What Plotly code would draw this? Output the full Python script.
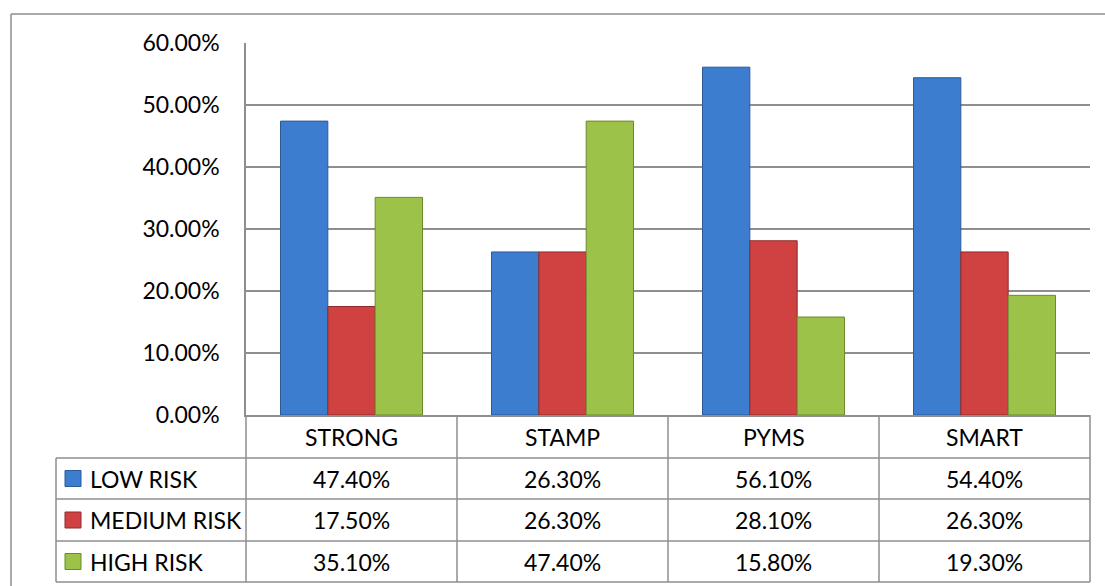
import plotly.graph_objects as go

categories = ["STRONG", "STAMP", "PYMS", "SMART"]
series_names = ["LOW RISK", "MEDIUM RISK", "HIGH RISK"]
low_risk = [0.474, 0.263, 0.561, 0.544]
medium_risk = [0.175, 0.263, 0.281, 0.263]
high_risk = [0.351, 0.474, 0.158, 0.193]
y_ticks = [0.0, 0.1, 0.2, 0.3, 0.4, 0.5, 0.6]

series_values = [low_risk, medium_risk, high_risk]
colors = ["#3D7DCF", "#D04241", "#9CC24A"]
edge_colors = ["#2B5A95", "#8E2B2A", "#6B8A2E"]

W, H = 1105, 586
FONT = "Lato"
FS = 23
GRID = "#8e8e8e"


def X(px):
    return px / W


def Y(py):
    return 1 - py / H


fig = go.Figure()
for name, vals, c, ec in zip(series_names, series_values, colors, edge_colors):
    fig.add_trace(go.Bar(
        x=categories, y=vals, name=name,
        marker=dict(color=c, line=dict(color=ec, width=1)),
        showlegend=False,
    ))

plot_l, plot_r, plot_t, plot_b = 246, 1090, 43, 415
col_edges = [246, 457, 668, 879, 1090]
row_edges = [458, 499, 541, 582]
legend_l = 56

shapes = []


def line(x0, y0, x1, y1):
    shapes.append(dict(type="line", xref="paper", yref="paper",
                       x0=X(x0), y0=Y(y0), x1=X(x1), y1=Y(y1),
                       line=dict(color=GRID, width=1.5)))


# outer chart border (extends beyond picture right/bottom)
line(11, 14, 1105, 14)
line(11, 14, 11, 586)
# table vertical lines
for cx in col_edges:
    line(cx, plot_b, cx, row_edges[-1])
line(legend_l, row_edges[0], legend_l, row_edges[-1])
# table horizontal lines
for ry in row_edges:
    line(legend_l, ry, plot_r, ry)

annotations = []
# category header
for cat in categories:
    annotations.append(dict(x=cat, xref="x", y=Y((plot_b + row_edges[0]) / 2), yref="paper",
                            text=cat, showarrow=False, xanchor="center", yanchor="middle",
                            font=dict(family=FONT, size=FS, color="#000")))
# rows
for i, (name, vals, c, ec) in enumerate(zip(series_names, series_values, colors, edge_colors)):
    top, bot = row_edges[i], row_edges[i + 1]
    cy = (top + bot) / 2
    shapes.append(dict(type="rect", xref="paper", yref="paper",
                       x0=X(65), x1=X(81), y0=Y(cy - 8), y1=Y(cy + 8),
                       fillcolor=c, line=dict(color=ec, width=1)))
    annotations.append(dict(x=X(88), xref="paper", y=Y(cy), yref="paper",
                            text=name, showarrow=False, xanchor="left", yanchor="middle",
                            font=dict(family=FONT, size=FS, color="#000")))
    for cat, v in zip(categories, vals):
        annotations.append(dict(x=cat, xref="x", y=Y(cy), yref="paper",
                                text=f"{v*100:.2f}%", showarrow=False,
                                xanchor="center", yanchor="middle",
                                font=dict(family=FONT, size=FS, color="#000")))

fig.update_layout(
    width=W, height=H,
    margin=dict(l=0, r=0, t=0, b=0, pad=0),
    paper_bgcolor="white", plot_bgcolor="white",
    barmode="group", bargap=0.327, bargroupgap=0,
    shapes=shapes, annotations=annotations,
    font=dict(family=FONT, size=FS, color="#000"),
    xaxis=dict(domain=[X(plot_l), X(plot_r)], showticklabels=False, ticks="",
               automargin=False,
               showgrid=False, showline=True, linecolor=GRID, linewidth=1.5),
    yaxis=dict(domain=[Y(plot_b), Y(plot_t)], range=[0, 0.6], tickvals=y_ticks,
               automargin=False,
               tickformat=".2%", showgrid=True, gridcolor=GRID, gridwidth=1.5,
               zeroline=False, showline=True, linecolor=GRID, linewidth=1.5,
               ticks="", ticklabelstandoff=20,
               tickfont=dict(family=FONT, size=FS, color="#000")),
)

fig.write_html("out.html")
